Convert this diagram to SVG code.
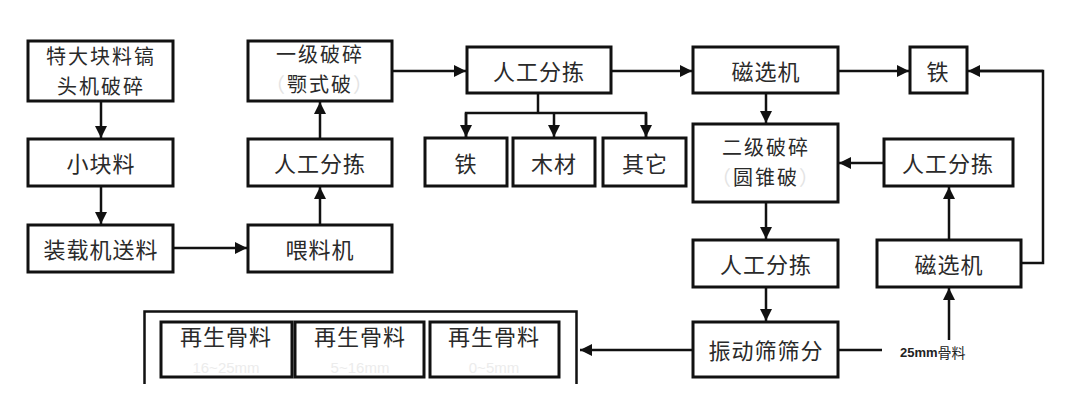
<svg xmlns="http://www.w3.org/2000/svg" width="1080" height="412" viewBox="0 0 1080 412">
<style>
.box{fill:#fff;stroke:#111;stroke-width:3}
.t{font-family:"Noto Sans CJK SC","Liberation Sans",sans-serif;font-size:22px;fill:#2a2a2a;text-anchor:middle;dominant-baseline:central;letter-spacing:1px}
.t2{font-size:20px;letter-spacing:2px}
.f{fill:#e4e4e4}
.sub{font-family:"Liberation Sans",sans-serif;font-size:15px;fill:#ececec;text-anchor:middle;dominant-baseline:central}
.c{fill:none;stroke:#111;stroke-width:2.5}
.lbl{font-family:"Noto Sans CJK SC","Liberation Sans",sans-serif;font-size:14px;fill:#222;dominant-baseline:central}
</style>
<defs>
<marker id="ah" viewBox="0 0 12 12" refX="12" refY="6" markerWidth="12" markerHeight="12" markerUnits="userSpaceOnUse" orient="auto">
<path d="M0,0 L12,6 L0,12 z" fill="#111"/>
</marker>
</defs>
<rect width="1080" height="412" fill="#fff"/>

<g id="connectors">
<line class="c" x1="101" y1="101" x2="101" y2="138" marker-end="url(#ah)"/>
<line class="c" x1="101" y1="186" x2="101" y2="224" marker-end="url(#ah)"/>
<line class="c" x1="173" y1="248" x2="247" y2="248" marker-end="url(#ah)"/>
<line class="c" x1="320" y1="225" x2="320" y2="187" marker-end="url(#ah)"/>
<line class="c" x1="320" y1="139" x2="320" y2="102" marker-end="url(#ah)"/>
<line class="c" x1="392" y1="71" x2="466" y2="71" marker-end="url(#ah)"/>
<path class="c" d="M538,93 V113"/>
<path class="c" d="M466,138 V113 H646 V138"/>
<line class="c" x1="466" y1="113" x2="466" y2="137" marker-end="url(#ah)"/>
<line class="c" x1="554" y1="113" x2="554" y2="137" marker-end="url(#ah)"/>
<line class="c" x1="646" y1="113" x2="646" y2="137" marker-end="url(#ah)"/>
<line class="c" x1="611" y1="71" x2="692" y2="71" marker-end="url(#ah)"/>
<line class="c" x1="838" y1="71" x2="909" y2="71" marker-end="url(#ah)"/>
<line class="c" x1="766" y1="93" x2="766" y2="123" marker-end="url(#ah)"/>
<line class="c" x1="884" y1="163" x2="839" y2="163" marker-end="url(#ah)"/>
<line class="c" x1="766" y1="202" x2="766" y2="239" marker-end="url(#ah)"/>
<line class="c" x1="766" y1="287" x2="766" y2="321" marker-end="url(#ah)"/>
<line class="c" x1="949" y1="240" x2="949" y2="187" marker-end="url(#ah)"/>
<path class="c" d="M1021,263 H1043 V71 H980"/>
<line class="c" x1="1043" y1="71" x2="968" y2="71" marker-end="url(#ah)"/>
<line class="c" x1="693" y1="350" x2="580" y2="350" marker-end="url(#ah)"/>
<line class="c" x1="838" y1="350" x2="882" y2="350"/>
<line class="c" x1="949" y1="340" x2="949" y2="288" marker-end="url(#ah)"/>
<text class="lbl" x="900" y="352"><tspan font-family="Liberation Sans, sans-serif" font-weight="bold" font-size="13">25mm</tspan>骨料</text>
</g>

<g id="n1"><rect class="box" x="28" y="41" width="145" height="60"/>
<text class="t t2" x="101" y="55">特大块料镐</text><text class="t t2" x="101" y="85">头机破碎</text></g>
<g id="n2"><rect class="box" x="28" y="139" width="145" height="47"/>
<text class="t" x="101" y="162">小块料</text></g>
<g id="n3"><rect class="box" x="28" y="225" width="145" height="47"/>
<text class="t" x="101" y="248">装载机送料</text></g>
<g id="n4"><rect class="box" x="248" y="41" width="144" height="60"/>
<text class="t t2" x="320" y="53">一级破碎</text><text class="t t2" x="320" y="83"><tspan class="f">（</tspan>颚式破<tspan class="f">）</tspan></text></g>
<g id="n5"><rect class="box" x="248" y="139" width="144" height="47"/>
<text class="t" x="320" y="162">人工分拣</text></g>
<g id="n6"><rect class="box" x="248" y="225" width="144" height="47"/>
<text class="t" x="320" y="248">喂料机</text></g>
<g id="n7"><rect class="box" x="467" y="47" width="144" height="46"/>
<text class="t" x="539" y="70">人工分拣</text></g>
<g id="n8"><rect class="box" x="425" y="138" width="82" height="48"/>
<text class="t" x="466" y="162">铁</text></g>
<g id="n9"><rect class="box" x="513" y="138" width="82" height="48"/>
<text class="t" x="554" y="162">木材</text></g>
<g id="n10"><rect class="box" x="603" y="138" width="83" height="48"/>
<text class="t" x="645" y="162">其它</text></g>
<g id="n11"><rect class="box" x="693" y="47" width="145" height="46"/>
<text class="t" x="766" y="70">磁选机</text></g>
<g id="n12"><rect class="box" x="910" y="47" width="57" height="46"/>
<text class="t" x="938" y="70">铁</text></g>
<g id="n13"><rect class="box" x="693" y="124" width="145" height="78"/>
<text class="t t2" x="766" y="146">二级破碎</text><text class="t t2" x="766" y="176"><tspan class="f">（</tspan>圆锥破<tspan class="f">）</tspan></text></g>
<g id="n14"><rect class="box" x="884" y="139" width="129" height="47"/>
<text class="t" x="948" y="162">人工分拣</text></g>
<g id="n15"><rect class="box" x="693" y="240" width="145" height="47"/>
<text class="t" x="766" y="263">人工分拣</text></g>
<g id="n16"><rect class="box" x="877" y="240" width="144" height="47"/>
<text class="t" x="949" y="263">磁选机</text></g>
<g id="n17"><rect class="box" x="693" y="322" width="145" height="55"/>
<text class="t" x="766" y="349">振动筛筛分</text></g>
<g id="n18">
<path class="c" d="M144.5,384 V311.5 H576.5 V384" stroke-width="3"/>
<rect class="box" x="161" y="322" width="131" height="55"/>
<text class="t" x="226" y="335">再生骨料</text><text class="sub" x="226" y="367">16~25mm</text>
<rect class="box" x="295" y="322" width="129" height="55"/>
<text class="t" x="360" y="335">再生骨料</text><text class="sub" x="360" y="367">5~16mm</text>
<rect class="box" x="430" y="322" width="129" height="55"/>
<text class="t" x="494" y="335">再生骨料</text><text class="sub" x="494" y="367">0~5mm</text>
</g>
</svg>
